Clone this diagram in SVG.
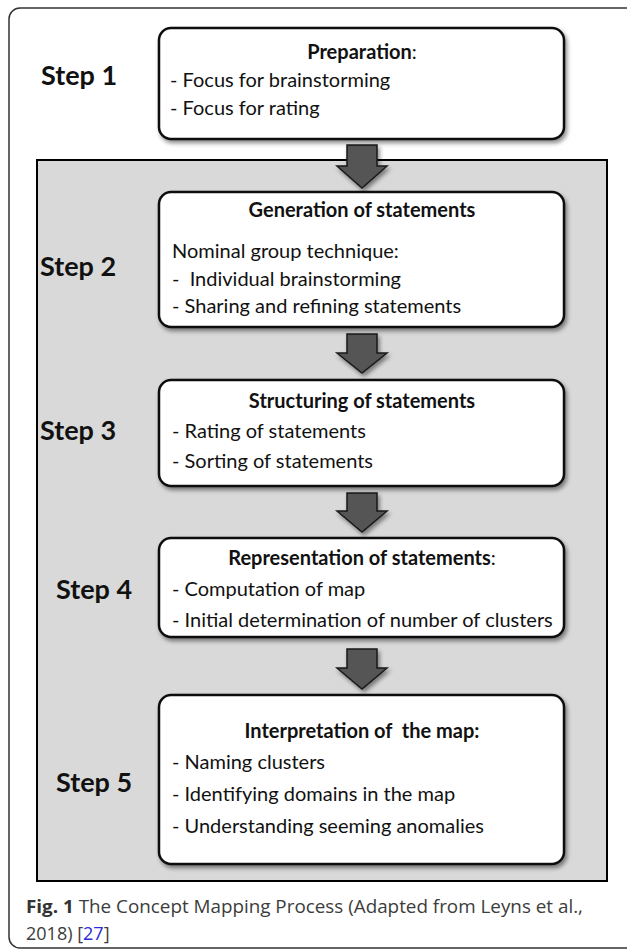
<svg xmlns="http://www.w3.org/2000/svg" width="627" height="950" viewBox="0 0 627 950">
  <defs>
    <filter id="shadow" x="-10%" y="-10%" width="125%" height="130%">
      <feDropShadow dx="2" dy="3" stdDeviation="2" flood-color="#000" flood-opacity="0.45"/>
    </filter>
    <style>
      .frame { fill: none; stroke: #333; stroke-width: 1.5; }
      .panel { fill: #d9d9d9; stroke: #000; stroke-width: 2; }
      .box { fill: #fff; stroke: #111; stroke-width: 2.5; filter: url(#shadow); }
      .arrow { fill: #555; stroke: #1a1a1a; stroke-width: 1.5; stroke-linejoin: miter; filter: url(#shadow); }
      .step { font-family: Lato, "Liberation Sans", sans-serif; font-weight: bold; font-size: 27px; fill: #111; }
      .title { font-family: Lato, "Liberation Sans", sans-serif; font-weight: bold; font-size: 20px; fill: #111; text-anchor: middle; }
      .colon { font-weight: normal; }
      .body { font-family: Lato, "Liberation Sans", sans-serif; font-size: 20px; fill: #111; }
      .cap { font-family: "Open Sans", "Liberation Sans", sans-serif; font-size: 18px; fill: #3c3c3c; }
      .capb { font-weight: bold; fill: #333; }
      .ref { fill: #2b2bdc; }
    </style>
  </defs>

  <rect class="frame" x="9" y="8" width="700" height="940" rx="11"/>
  <rect class="panel" x="37" y="160" width="570" height="721"/>

  <g id="connectors">
    <path class="arrow" d="M347,145 H377 V166 H387 L362,188 L337,166 H347 Z"/>
    <path class="arrow" d="M347,334 H377 V353 H387 L362,373 L337,353 H347 Z"/>
    <path class="arrow" d="M347,493 H377 V511 H387 L362,532 L337,511 H347 Z"/>
    <path class="arrow" d="M347,649 H377 V668 H387 L362,689 L337,668 H347 Z"/>
  </g>

  <g id="step1">
    <text class="step" x="41" y="85">Step 1</text>
    <rect class="box" x="159" y="28" width="405" height="111" rx="12"/>
    <text class="title" x="362" y="59">Preparation<tspan class="colon">:</tspan></text>
    <text class="body" x="170" y="87">- Focus for brainstorming</text>
    <text class="body" x="170" y="115">- Focus for rating</text>
  </g>

  <g id="step2">
    <text class="step" x="40" y="276">Step 2</text>
    <rect class="box" x="159" y="192" width="405" height="135" rx="12"/>
    <text class="title" x="362" y="217">Generation of statements</text>
    <text class="body" x="172" y="258">Nominal group technique:</text>
    <text class="body" x="172" y="286" xml:space="preserve">-  Individual brainstorming</text>
    <text class="body" x="172" y="313">- Sharing and refining statements</text>
  </g>

  <g id="step3">
    <text class="step" x="40" y="440">Step 3</text>
    <rect class="box" x="159" y="380" width="405" height="106" rx="12"/>
    <text class="title" x="362" y="408">Structuring of statements</text>
    <text class="body" x="172" y="438">- Rating of statements</text>
    <text class="body" x="172" y="468">- Sorting of statements</text>
  </g>

  <g id="step4">
    <text class="step" x="56" y="599">Step 4</text>
    <rect class="box" x="159" y="538" width="405" height="99" rx="12"/>
    <text class="title" x="362" y="565">Representation of statements<tspan class="colon">:</tspan></text>
    <text class="body" x="172" y="596">- Computation of map</text>
    <text class="body" x="172" y="627">- Initial determination of number of clusters</text>
  </g>

  <g id="step5">
    <text class="step" x="56" y="792">Step 5</text>
    <rect class="box" x="159" y="695" width="405" height="169" rx="12"/>
    <text class="title" x="362" y="738" xml:space="preserve">Interpretation of  the map:</text>
    <text class="body" x="172" y="769">- Naming clusters</text>
    <text class="body" x="172" y="801">- Identifying domains in the map</text>
    <text class="body" x="172" y="833">- Understanding seeming anomalies</text>
  </g>

  <g id="caption">
    <text class="cap" x="26" y="913" textLength="557" lengthAdjust="spacingAndGlyphs"><tspan class="capb">Fig. 1</tspan> The Concept Mapping Process (Adapted from Leyns et al.,</text>
    <text class="cap" x="26" y="940">2018) [<tspan class="ref">27</tspan>]</text>
  </g>
</svg>
